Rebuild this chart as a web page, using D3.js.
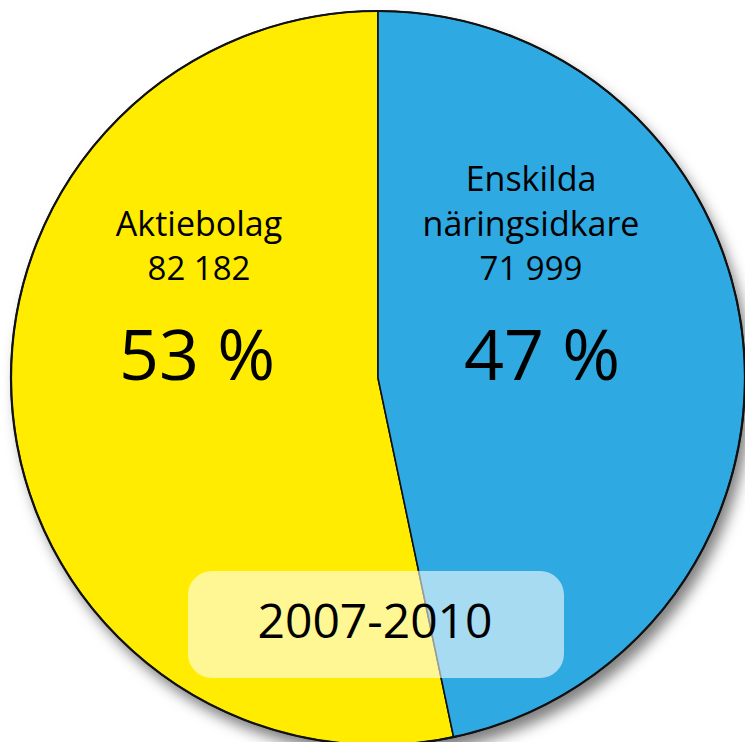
<!DOCTYPE html>
<html>
<head>
<meta charset="utf-8">
<script src="https://cdn.jsdelivr.net/npm/d3@7"></script>
<style>
  body { margin: 0; background: #fff; }
  svg { display: block; font-family: "Open Sans", sans-serif; }
</style>
</head>
<body>
<script>
// data
var categories = ["Aktiebolag", "Enskilda näringsidkare"];
var nameLines = [["Aktiebolag"], ["Enskilda", "näringsidkare"]];
var counts = [82182, 71999];
var countLabels = ["82 182", "71 999"];
var percentLabels = ["53 %", "47 %"];
var colors = ["#ffec00", "#2ea9e1"];
var period = "2007-2010";

var width = 745, height = 742;
var cx = 378, cy = 378, radius = 367;
var labelX = [199, 531]; // horizontal centre of each label block

var svg = d3.select("body").append("svg")
    .attr("width", width)
    .attr("height", height);

var defs = svg.append("defs");
var f = defs.append("filter").attr("id", "shadow")
    .attr("x", "-10%").attr("y", "-10%").attr("width", "125%").attr("height", "125%");
f.append("feDropShadow")
    .attr("dx", 6).attr("dy", 10)
    .attr("stdDeviation", 7)
    .attr("flood-color", "#000")
    .attr("flood-opacity", 0.5);

var g = svg.append("g").attr("transform", `translate(${cx},${cy})`);

// shadow circle under the pie
g.append("circle")
    .attr("r", radius)
    .attr("fill", "#fff")
    .attr("filter", "url(#shadow)");

// first slice ends at 12 o'clock, second one starts there
var share0 = counts[0] / d3.sum(counts);
var pie = d3.pie().sort(null)
    .startAngle(-2 * Math.PI * share0)
    .endAngle(2 * Math.PI - 2 * Math.PI * share0);
var arc = d3.arc().innerRadius(0).outerRadius(radius);

var arcs = pie(counts);

g.selectAll("path.slice")
    .data(arcs)
    .enter().append("path")
    .attr("class", "slice")
    .attr("d", arc)
    .attr("fill", (d, i) => colors[i])
    .attr("stroke", "#111")
    .attr("stroke-width", 1.6)
    .attr("stroke-linejoin", "round");

// outer border
g.append("circle")
    .attr("r", radius)
    .attr("fill", "none")
    .attr("stroke", "#111")
    .attr("stroke-width", 2.2);

// labels
var lab = svg.append("g").attr("fill", "#000").attr("text-anchor", "middle");
arcs.forEach((d, i) => {
    var x = labelX[i];
    var lines = nameLines[i];
    var base = 280 - 44.5 * lines.length;
    lines.forEach((t, j) => {
        lab.append("text")
            .attr("x", x)
            .attr("y", base + 44.5 * j)
            .attr("font-size", "34px")
            .text(t);
    });
    lab.append("text")
        .attr("x", x)
        .attr("y", 280)
        .attr("font-size", "33px")
        .text(countLabels[i]);
    lab.append("text")
        .attr("x", labelX[i] - 2 + (i ? 13 : 0))
        .attr("y", 380)
        .attr("font-size", "70px")
        .text(percentLabels[i]);
});

// period box
svg.append("rect")
    .attr("x", 188).attr("y", 571)
    .attr("width", 376).attr("height", 107)
    .attr("rx", 24).attr("ry", 24)
    .attr("fill", "#fff")
    .attr("fill-opacity", 0.58);

svg.append("text")
    .attr("x", 375)
    .attr("y", 638)
    .attr("text-anchor", "middle")
    .attr("font-size", "48px")
    .attr("fill", "#000")
    .text(period);
</script>
</body>
</html>
